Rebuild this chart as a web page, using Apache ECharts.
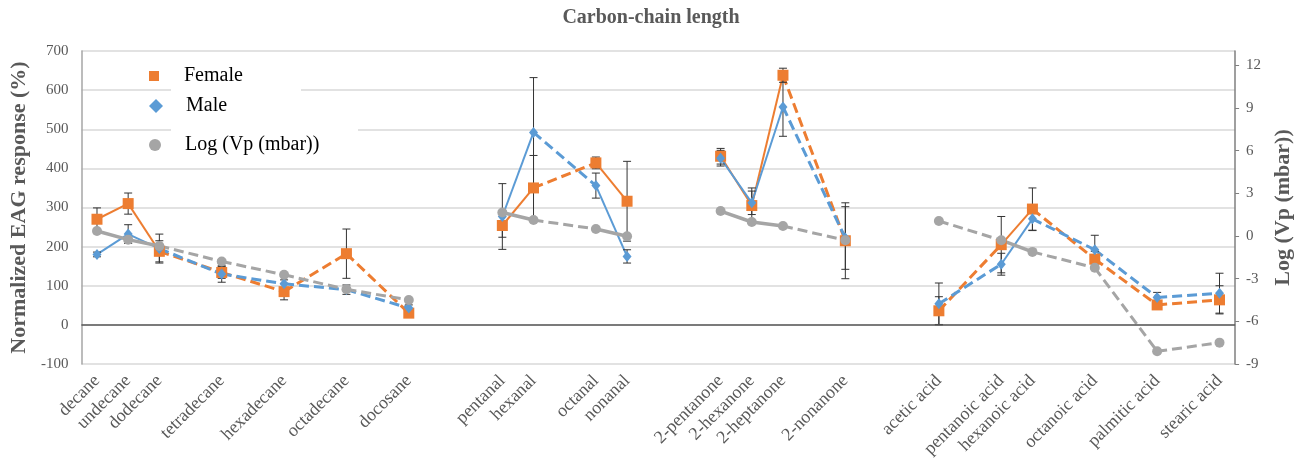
<!DOCTYPE html>
<html>
<head>
<meta charset="utf-8">
<script src="https://cdn.jsdelivr.net/npm/echarts@6/dist/echarts.min.js"></script>
<style>
  html, body { margin: 0; padding: 0; background: #fff; }
  #chart { width: 1302px; height: 471px; }
</style>
</head>
<body>
<div id="chart"></div>
<script>
// category slots along the x axis (blank ones keep the spacing of the original)
const categories = ['decane', 'undecane', 'dodecane', '', 'tetradecane', '', 'hexadecane', '', 'octadecane', '', 'docosane', '', '',
  'pentanal', 'hexanal', '', 'octanal', 'nonanal', '', '',
  '2-pentanone', '2-hexanone', '2-heptanone', '', '2-nonanone', '', '',
  'acetic acid', '', 'pentanoic acid', 'hexanoic acid', '', 'octanoic acid', '', 'palmitic acid', '', 'stearic acid'];

const groups = [
  ['decane', 'undecane', 'dodecane', 'tetradecane', 'hexadecane', 'octadecane', 'docosane'],
  ['pentanal', 'hexanal', 'octanal', 'nonanal'],
  ['2-pentanone', '2-hexanone', '2-heptanone', '2-nonanone'],
  ['acetic acid', 'pentanoic acid', 'hexanoic acid', 'octanoic acid', 'palmitic acid', 'stearic acid']
];
const compounds = groups.flat();

const female    = [270, 310, 188, 134, 85, 182, 30,   254, 350, 414, 316,   431, 305, 638, 215,   36, 205, 296, 168, 51, 64];
const femaleErr = [29, 27, 27, 15, 21, 63, 8,         30, 83, 15, 102,      20, 45, 18, 97,      36, 72, 54, 20, 8, 36];
const male      = [180, 232, 195, 130, 105, 90, 43,   277, 492, 356, 175,   426, 312, 557, 222,  54, 155, 271, 192, 70, 81];
const maleErr   = [6, 24, 37, 21, 10, 12, 8,          84, 140, 32, 17,      20, 30, 75, 80,      53, 28, 30, 37, 13, 51];
const logVp     = [0.35, -0.26, -0.70, -1.79, -2.73, -3.75, -4.50,  1.65, 1.12, 0.49, -0.02,  1.75, 0.98, 0.70, -0.30,
                   1.05, -0.30, -1.12, -2.24, -8.11, -7.50];

const leftTicks = [-100, 0, 100, 200, 300, 400, 500, 600, 700];
const rightTicks = [-9, -6, -3, 0, 3, 6, 9, 12];

const ORANGE = '#ED7D31', BLUE = '#5B9BD5', GRAY = '#A5A5A5';
const FONT = '"Liberation Serif", "Times New Roman", serif';

function idx(name) { return categories.indexOf(name); }

// one line series per segment: neighbouring chain lengths solid, skipped ones dashed
function segments(values, color, solidWidth, yAxisIndex) {
  const out = [];
  let k = 0;
  groups.forEach(g => {
    for (let i = 0; i < g.length; i++) {
      if (i > 0) {
        const a = idx(g[i - 1]), b = idx(g[i]);
        const dashed = b - a > 1;
        out.push({
          type: 'line',
          yAxisIndex: yAxisIndex,
          silent: true,
          symbol: 'none',
          z: 2,
          data: [[a, values[k - 1]], [b, values[k]]],
          lineStyle: { color: color, width: dashed ? 3 : solidWidth, type: dashed ? [10, 5] : 'solid' }
        });
      }
      k++;
    }
  });
  return out;
}

function points(values) {
  return compounds.map((c, i) => [idx(c), values[i]]);
}
function errData(values, errs) {
  return compounds.map((c, i) => [idx(c), values[i] - errs[i], values[i] + errs[i]]);
}

function renderErr(params, api) {
  const x = api.value(0);
  const lo = api.coord([x, api.value(1)]);
  const hi = api.coord([x, api.value(2)]);
  const w = 4;
  const st = { stroke: '#333', lineWidth: 1 };
  return {
    type: 'group',
    children: [
      { type: 'line', shape: { x1: lo[0], y1: lo[1], x2: hi[0], y2: hi[1] }, style: st },
      { type: 'line', shape: { x1: lo[0] - w, y1: lo[1], x2: lo[0] + w, y2: lo[1] }, style: st },
      { type: 'line', shape: { x1: hi[0] - w, y1: hi[1], x2: hi[0] + w, y2: hi[1] }, style: st }
    ]
  };
}

const chart = echarts.init(document.getElementById('chart'));

const series = [];
series.push(...segments(female, ORANGE, 2, 0));
series.push(...segments(male, BLUE, 2, 0));
series.push(...segments(logVp, GRAY, 3.5, 1));

// zero line
series[0].markLine = {
  silent: true,
  symbol: ['none', 'none'],
  label: { show: false },
  lineStyle: { color: '#595959', width: 1.5, type: 'solid' },
  data: [{ yAxis: 0 }]
};

series.push({
  type: 'custom', name: 'femaleErr', z: 3, renderItem: renderErr,
  encode: { x: 0, y: [1, 2] }, data: errData(female, femaleErr)
});
series.push({
  type: 'custom', name: 'maleErr', z: 3, renderItem: renderErr,
  encode: { x: 0, y: [1, 2] }, data: errData(male, maleErr)
});

series.push({
  type: 'scatter', name: 'Female', z: 4, symbol: 'rect', symbolSize: 11,
  itemStyle: { color: ORANGE, opacity: 1 }, data: points(female)
});
series.push({
  type: 'scatter', name: 'Male', z: 4, symbol: 'diamond', symbolSize: [9, 11],
  itemStyle: { color: BLUE, opacity: 1 }, data: points(male)
});
series.push({
  type: 'scatter', name: 'Log (Vp (mbar))', yAxisIndex: 1, z: 5, symbol: 'circle', symbolSize: 10,
  itemStyle: { color: GRAY, opacity: 1 }, data: points(logVp)
});

function legendFor(name, icon, h, top) {
  return {
    data: [{ name: name, icon: icon }],
    left: 149, top: top, padding: 0,
    itemWidth: 50, itemHeight: h, z: 10,
    selectedMode: false,
    textStyle: { fontFamily: FONT, fontSize: 20, color: '#000' }
  };
}

chart.setOption({
  animation: false,
  backgroundColor: '#fff',
  title: {
    text: 'Carbon-chain length',
    left: 'center', top: 8, padding: 0,
    textStyle: { fontFamily: FONT, fontSize: 20, fontWeight: 'bold', color: '#595959' }
  },
  legend: [
    legendFor('Female', 'path://M0,0H10V10H0Z', 10, 66),
    legendFor('Male', 'path://M7,0L14,7L7,14L0,7Z', 14, 96),
    legendFor('Log (Vp (mbar))', 'path://M6,0A6,6,0,1,1,6,12A6,6,0,1,1,6,0Z', 12, 135)
  ],
  graphic: [
    { type: 'rect', z: 5, silent: true, shape: { x: 171, y: 86, width: 130, height: 30 }, style: { fill: '#fff' } },
    { type: 'rect', z: 5, silent: true, shape: { x: 171, y: 122, width: 187, height: 36 }, style: { fill: '#fff' } }
  ],
  grid: { left: 79, right: 66, top: 51, bottom: 107, containLabel: false },
  xAxis: {
    type: 'category',
    data: categories,
    boundaryGap: true,
    axisLine: { show: false },
    axisTick: { show: false },
    splitLine: { show: false },
    axisLabel: {
      interval: 0, rotate: 45, margin: 14,
      fontFamily: FONT, fontSize: 18, color: '#595959'
    }
  },
  yAxis: [
    {
      type: 'value', min: -100, max: 700, interval: 100,
      name: 'Normalized EAG response (%)',
      nameLocation: 'middle', nameGap: 43,
      nameTextStyle: { fontFamily: FONT, fontSize: 22, fontWeight: 'bold', color: '#595959' },
      axisLine: { show: true, lineStyle: { color: '#A6A6A6', width: 1.5 } },
      axisTick: { show: false },
      splitLine: { show: true, lineStyle: { color: '#D9D9D9', width: 1.5 } },
      axisLabel: {
        margin: 13, fontFamily: FONT, fontSize: 15, color: '#595959',
        customValues: leftTicks
      }
    },
    {
      type: 'value', min: -9, max: 13, interval: 3,
      position: 'right',
      name: 'Log (Vp (mbar))',
      nameLocation: 'middle', nameGap: 36,
      nameTextStyle: { fontFamily: FONT, fontSize: 22, fontWeight: 'bold', color: '#595959' },
      axisLine: { show: true, lineStyle: { color: '#7F7F7F', width: 1.5 } },
      axisTick: { show: true, inside: false, length: 4, lineStyle: { color: '#7F7F7F' }, customValues: rightTicks },
      splitLine: { show: false },
      axisLabel: {
        margin: 11, fontFamily: FONT, fontSize: 15, color: '#595959',
        customValues: rightTicks
      }
    }
  ],
  series: series
});
</script>
</body>
</html>
